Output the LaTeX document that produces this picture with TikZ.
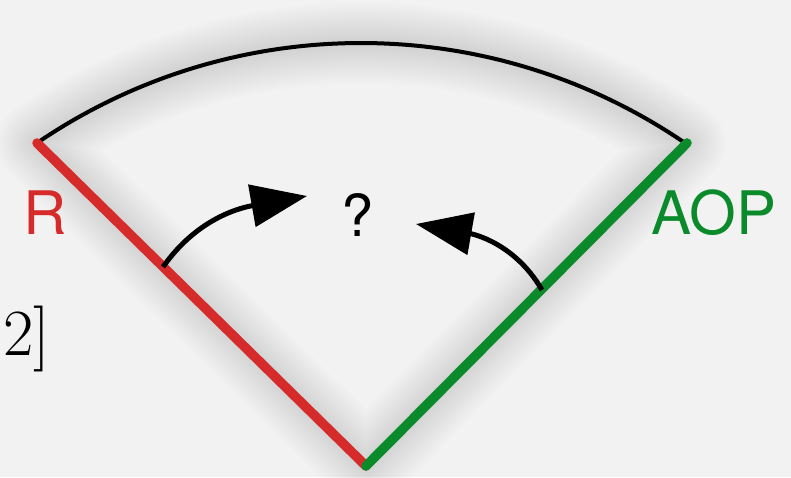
\documentclass[tikz,border=0pt]{standalone}
\usepackage{fontspec}
\setmainfont{TeX Gyre Heros}
\newfontfamily\oldserif{Latin Modern Roman}
\usetikzlibrary{arrows.meta}
\definecolor{secBg}{HTML}{F2F2F2}
\definecolor{secRed}{HTML}{D62B2B}
\definecolor{secGreen}{HTML}{0A8A2A}

\begin{document}
\begin{tikzpicture}[x=1pt,y=1pt,
        edge/.style={line width=9.5pt,line cap=round},
        turn/.style={line width=5pt,-{Triangle[length=56pt,width=42pt]}},
        lab/.style={inner sep=0pt,font=\fontsize{60}{60}\selectfont}]
  \fill[secBg] (0,0) rectangle (791,477);
  \useasboundingbox (0,0) rectangle (791,477);
  \coordinate (apex) at (366,11);
  \coordinate (rEnd) at (37,334);
  \coordinate (gEnd) at (687,334);
  \coordinate (rFoot) at (163,210);
  \coordinate (gFoot) at (542,187);
  \coordinate (rTip) at (307,281);
  \coordinate (gTip) at (416,253);
  % soft halo under the outline
  \foreach \w in {6,11,...,81}
    \draw[line width=\w pt,black,opacity=0.008,line join=round,line cap=round,yshift=-10pt]
      (apex) -- (rEnd) arc[start angle=124.3,end angle=55.7,radius=575] -- cycle;
  \draw[line width=4pt] (rEnd) arc[start angle=124.3,end angle=55.7,radius=575];
  \draw[edge,secRed] (apex) -- (rEnd);
  \draw[edge,secGreen] (apex) -- (gEnd);
  % labels
  \node[lab,text=secRed] (rLab) at (45,264) {R};
  \node[lab,text=secGreen] (aopLab) at (714,264) {AOP};
  \node[lab,font=\fontsize{58}{58}\selectfont] (qLab) at (358,262) {?};
  \node[lab,anchor=west,font=\oldserif\fontsize{66}{66}\selectfont] (refLab) at (3,138) {2]};
  % arrows towards the question
  \draw[turn] (rFoot) to[out=55,in=190] (rTip);
  \draw[turn] (gFoot) to[out=120,in=-10] (gTip);
\end{tikzpicture}
\end{document}
